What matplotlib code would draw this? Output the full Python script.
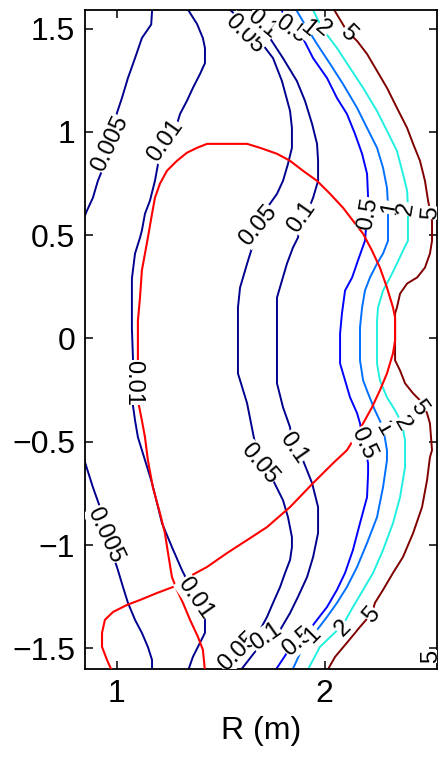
import matplotlib
matplotlib.use("Agg")
import matplotlib.pyplot as plt
import numpy as np

plt.rcParams['font.family'] = ['Liberation Sans', 'DejaVu Sans']

# ---- contour lines (R in m, Z in m) ----
r_005a = [1.17, 1.165, 1.12, 1.087, 1.053, 1.024, 1.0, 0.966, 0.928, 0.908, 0.884, 0.855, 0.84]
z_005a = [1.60, 1.52, 1.454, 1.357, 1.261, 1.164, 1.092, 0.942, 0.812, 0.763, 0.681, 0.618, 0.58]

r_005b = [0.84, 0.855, 0.884, 0.918, 0.942, 1.0, 1.029, 1.053, 1.087, 1.12, 1.149, 1.169, 1.169]
z_005b = [-0.58, -0.628, -0.72, -0.816, -0.952, -1.106, -1.203, -1.28, -1.362, -1.425, -1.493, -1.556, -1.61]

r_01 = [1.337, 1.386, 1.414, 1.424, 1.424, 1.40, 1.366, 1.337, 1.304, 1.289, 1.231, 1.198, 1.183,
        1.159, 1.135, 1.120, 1.111, 1.087, 1.072, 1.072, 1.077, 1.077, 1.077, 1.087, 1.101, 1.135,
        1.169, 1.217, 1.265, 1.313, 1.337, 1.376, 1.424, 1.424, 1.40, 1.366, 1.342]
z_01 = [1.60, 1.522, 1.454, 1.406, 1.333, 1.28, 1.213, 1.15, 1.087, 1.039, 0.957, 0.845, 0.763,
        0.667, 0.604, 0.522, 0.488, 0.411, 0.29, 0.048, -0.092, -0.213, -0.324, -0.396, -0.478, -0.589,
        -0.70, -0.894, -1.01, -1.121, -1.169, -1.256, -1.348, -1.425, -1.473, -1.541, -1.61]

r_05 = [1.535, 1.593, 1.641, 1.689, 1.752, 1.795, 1.834, 1.843, 1.843, 1.824, 1.80, 1.771, 1.737,
        1.713, 1.680, 1.651, 1.627, 1.593, 1.583, 1.583, 1.627, 1.665, 1.689, 1.752, 1.80, 1.824,
        1.843, 1.843, 1.834, 1.81, 1.786, 1.752, 1.723, 1.689, 1.655, 1.583, 1.53]
z_05 = [1.60, 1.546, 1.498, 1.44, 1.357, 1.246, 1.101, 1.019, 0.923, 0.845, 0.763, 0.70, 0.652,
        0.618, 0.546, 0.44, 0.362, 0.246, 0.15, -0.169, -0.314, -0.507, -0.604, -0.686, -0.783, -0.865,
        -0.961, -1.01, -1.072, -1.135, -1.203, -1.28, -1.348, -1.411, -1.444, -1.517, -1.61]

r_1 = [1.641, 1.699, 1.737, 1.80, 1.867, 1.906, 1.94, 1.964, 1.969, 1.969, 1.945, 1.92, 1.892,
       1.872, 1.848, 1.819, 1.795, 1.771, 1.771, 1.80, 1.834, 1.848, 1.896, 1.94, 1.969, 1.969,
       1.945, 1.916, 1.872, 1.834, 1.786, 1.737, 1.665, 1.593]
z_1 = [1.60, 1.522, 1.454, 1.357, 1.246, 1.15, 1.039, 0.942, 0.86, 0.763, 0.681, 0.618, 0.585,
       0.488, 0.44, 0.362, 0.28, 0.198, -0.217, -0.333, -0.43, -0.531, -0.589, -0.70, -0.816, -0.942,
       -1.058, -1.155, -1.251, -1.329, -1.411, -1.444, -1.517, -1.61]

r_5 = [1.786, 1.848, 1.896, 1.945, 2.012, 2.06, 2.108, 2.147, 2.181, 2.205, 2.21, 2.205, 2.195,
       2.161, 2.133, 2.099, 2.084, 2.075, 2.075, 2.099, 2.123, 2.157, 2.171, 2.186, 2.21, 2.21,
       2.205, 2.171, 2.137, 2.099, 2.06, 2.012, 1.964, 1.916, 1.867, 1.819, 1.761]
z_5 = [1.60, 1.502, 1.454, 1.357, 1.261, 1.164, 1.087, 0.99, 0.894, 0.797, 0.681, 0.594, 0.473,
       0.377, 0.295, 0.232, 0.121, 0.024, -0.121, -0.203, -0.285, -0.362, -0.411, -0.493, -0.604, -0.652,
       -0.768, -0.894, -1.024, -1.135, -1.217, -1.30, -1.362, -1.425, -1.459, -1.522, -1.61]

r_10 = [1.858, 1.916, 1.964, 2.027, 2.089, 2.157, 2.205, 2.253, 2.282, 2.301, 2.306, 2.306, 2.282,
        2.253, 2.219, 2.195, 2.181, 2.171, 2.171, 2.186, 2.21, 2.243, 2.282, 2.301, 2.301, 2.282,
        2.253, 2.205, 2.157, 2.108, 2.06, 2.012, 1.964, 1.896, 1.843]
z_10 = [1.60, 1.502, 1.425, 1.329, 1.232, 1.116, 1.019, 0.923, 0.826, 0.729, 0.643, 0.473, 0.411,
        0.362, 0.295, 0.232, 0.15, 0.053, -0.106, -0.203, -0.266, -0.348, -0.43, -0.541, -0.589, -0.72,
        -0.865, -0.99, -1.106, -1.203, -1.28, -1.348, -1.411, -1.493, -1.61]

r_20 = [1.94, 1.988, 2.06, 2.123, 2.186, 2.253, 2.301, 2.349, 2.378, 2.398, 2.402, 2.402, 2.378,
        2.349, 2.316, 2.282, 2.258, 2.253, 2.253, 2.267, 2.301, 2.34, 2.373, 2.388, 2.388, 2.364,
        2.33, 2.282, 2.234, 2.186, 2.137, 2.089, 1.978, 1.916]
z_20 = [1.60, 1.502, 1.406, 1.309, 1.213, 1.101, 1.005, 0.908, 0.797, 0.715, 0.633, 0.473, 0.425,
        0.362, 0.295, 0.232, 0.15, 0.087, -0.121, -0.203, -0.285, -0.348, -0.411, -0.493, -0.623, -0.768,
        -0.894, -1.024, -1.135, -1.217, -1.30, -1.386, -1.493, -1.61]

r_50 = [2.041, 2.108, 2.157, 2.205, 2.253, 2.301, 2.349, 2.398, 2.427, 2.46, 2.484, 2.499, 2.518,
        2.518, 2.508, 2.484, 2.446, 2.398, 2.364, 2.349, 2.34, 2.34, 2.364, 2.388, 2.427, 2.47,
        2.494, 2.508, 2.518, 2.508, 2.494, 2.47, 2.427, 2.378, 2.33, 2.282, 2.243, 2.229, 2.171,
        2.108, 2.051, 2.012]
z_50 = [1.60, 1.488, 1.44, 1.377, 1.295, 1.213, 1.116, 1.019, 0.942, 0.86, 0.763, 0.667, 0.57,
        0.473, 0.411, 0.343, 0.295, 0.266, 0.217, 0.15, 0.121, -0.106, -0.155, -0.217, -0.266, -0.309,
        -0.362, -0.411, -0.541, -0.575, -0.686, -0.816, -0.942, -1.058, -1.135, -1.217, -1.28, -1.329,
        -1.396, -1.473, -1.541, -1.61]

# ---- separatrix (red) ----
r_sep = [1.424, 1.414, 1.39, 1.352, 1.318, 1.289, 1.265, 1.246, 1.231, 1.207, 1.173, 1.149, 1.135,
         1.12, 1.101, 1.101, 1.111, 1.12, 1.135, 1.149, 1.169, 1.183, 1.207, 1.241, 1.289, 1.337,
         1.386, 1.434, 1.627, 1.689, 1.771, 1.834, 1.896, 1.964, 2.027, 2.089, 2.137, 2.186, 2.229,
         2.267, 2.301, 2.33, 2.34, 2.34, 2.33, 2.301, 2.267, 2.229, 2.186, 2.147, 2.108, 2.041, 1.945,
         1.834, 1.723, 1.627, 1.53, 1.434, 1.337, 1.27, 1.193, 1.111, 1.048, 0.981, 0.942, 0.928,
         0.928, 0.952, 0.976]
z_sep = [-1.61, -1.507, -1.444, -1.362, -1.28, -1.217, -1.155, -1.039, -0.942, -0.845, -0.72, -0.589,
         -0.478, -0.396, -0.30, 0.087, 0.198, 0.329, 0.411, 0.488, 0.604, 0.681, 0.749, 0.812, 0.86,
         0.899, 0.923, 0.942, 0.942, 0.923, 0.894, 0.86, 0.812, 0.763, 0.70, 0.633, 0.57, 0.507, 0.425,
         0.343, 0.246, 0.15, 0.101, -0.01, -0.072, -0.169, -0.251, -0.333, -0.411, -0.478, -0.541,
         -0.604, -0.70, -0.816, -0.913, -0.976, -1.039, -1.106, -1.159, -1.203, -1.232, -1.266, -1.29,
         -1.324, -1.362, -1.425, -1.493, -1.556, -1.61]

# ---- contour labels: text, R, Z, rotation ----
lab_text = ["0.005", "0.005", "0.01", "0.01", "0.01",
            "0.05", "0.1", "0.05", "0.1", "0.05", "0.1", "0.05", "0.1",
            "0.5", "1", "2", "5", "0.5", "1", "2", "5",
            "0.5", "1", "2", "5", "0.5", "1", "2", "5", "5"]
lab_r = [0.966, 0.942, 1.231, 1.077, 1.376,
         1.617, 1.699, 1.68, 1.892, 1.689, 1.848, 1.583, 1.718,
         1.839, 1.92, 1.993, 2.113, 2.21, 2.316, 2.393, 2.513,
         2.19, 2.287, 2.373, 2.455, 1.872, 1.945, 2.089, 2.229, 2.513]
lab_z = [0.942, -0.952, 0.957, -0.213, -1.256,
         1.473, 1.522, 0.546, 0.585, -0.604, -0.531, -1.517, -1.444,
         1.498, 1.498, 1.498, 1.478, 0.604, 0.633, 0.628, 0.609,
         -0.507, -0.435, -0.411, -0.338, -1.469, -1.435, -1.401, -1.338, -1.541]
lab_rot = [65, -65, 55, -90, -55,
           -45, -40, 50, 55, -50, -55, 45, 35,
           -35, -40, -40, -45, 80, 80, 80, 85,
           -65, -60, -60, -55, 40, 45, 45, 50, 90]

x_ticks = [1, 2]
y_ticks = [-1.5, -1, -0.5, 0, 0.5, 1, 1.5]
y_ticklabels = ["\u22121.5", "\u22121", "\u22120.5", "0", "0.5", "1", "1.5"]

navy = "#00008f"
lines = [
    (r_005a, z_005a, navy), (r_005b, z_005b, navy), (r_01, z_01, navy),
    (r_05, z_05, navy), (r_1, z_1, navy), (r_5, z_5, "#0000ff"),
    (r_10, z_10, "#0070ff"), (r_20, z_20, "#20f0e0"), (r_50, z_50, "#800000"),
]

fig = plt.figure(figsize=(4.46, 7.59), dpi=100)
ax = fig.add_axes([85 / 446, 1 - 669 / 759, 352 / 446, 659 / 759])

for r, z, c in lines:
    ax.plot(r, z, color=c, lw=1.4, zorder=2)
ax.plot(r_sep, z_sep, color="#ff0000", lw=1.5, zorder=3)

for t, r, z, rot in zip(lab_text, lab_r, lab_z, lab_rot):
    ax.text(r, z, t, rotation=rot, rotation_mode="anchor", ha="center", va="center",
            fontsize=17, color="black", zorder=4, clip_on=True,
            bbox=dict(facecolor="white", edgecolor="none", pad=0.0))

ax.set_xlim(0.846, 2.542)
ax.set_ylim(-1.60, 1.59)
ax.set_xticks(x_ticks)
ax.set_xticklabels([str(v) for v in x_ticks])
ax.set_yticks(y_ticks)
ax.set_yticklabels(y_ticklabels)
ax.tick_params(direction="in", length=6, width=1.1, top=True, right=True,
               labelsize=23, pad=7)
for s in ax.spines.values():
    s.set_linewidth(1.3)
ax.set_xlabel("R (m)", fontsize=23, labelpad=5)

fig.savefig("out.png", dpi=100)
